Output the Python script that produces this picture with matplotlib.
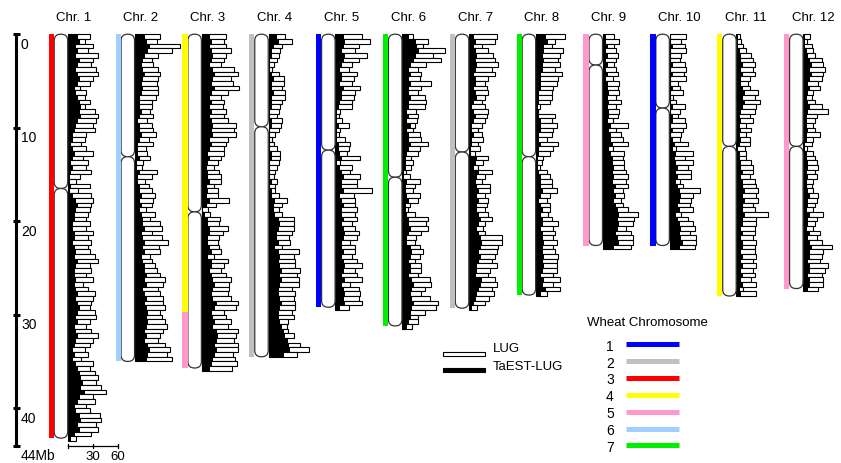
import matplotlib
matplotlib.use('Agg')
import matplotlib.pyplot as plt
from matplotlib.patches import FancyBboxPatch, Rectangle

plt.rcParams['font.family'] = ['Liberation Sans', 'DejaVu Sans']

# ---- data -------------------------------------------------------------
chrom_names = ['Chr. 1', 'Chr. 2', 'Chr. 3', 'Chr. 4', 'Chr. 5', 'Chr. 6',
               'Chr. 7', 'Chr. 8', 'Chr. 9', 'Chr. 10', 'Chr. 11', 'Chr. 12']
chrom_len = [43.2, 35.0, 35.7, 34.5, 29.2, 31.2, 29.3, 27.9, 22.6, 22.6, 28.0, 27.2]
centromere = [16.5, 13.1, 19.0, 9.9, 12.4, 15.3, 12.6, 13.1, 3.3, 7.9, 12.0, 12.0]

# syntenic wheat group blocks: (rice chrom index, start Mb, end Mb, wheat group)
wheat_blocks = [(0, 0, 43.2, 3), (1, 0, 35.0, 6), (2, 0, 29.7, 4), (2, 29.7, 35.7, 5),
                (3, 0, 34.5, 2), (4, 0, 29.2, 1), (5, 0, 31.2, 7), (6, 0, 29.3, 2),
                (7, 0, 27.9, 7), (8, 0, 22.6, 5), (9, 0, 22.6, 1), (10, 0, 28.0, 4),
                (11, 0, 27.2, 5)]
wheat_groups = ['1', '2', '3', '4', '5', '6', '7']
wheat_colors = ['#0000ff', '#c0c0c0', '#ff0000', '#ffff00', '#ff99cc', '#a0d0ff', '#00ee00']

bin_mb = 0.5

lug_chr1 = [26, 20, 30, 24, 36, 30, 28, 34, 36, 30, 26, 14, 22, 20, 26, 20, 32, 36, 34, 30,
            32, 22, 20, 16, 22, 30, 18, 24, 22, 28, 14, 10, 26, 12, 28, 30, 28, 26, 24, 22,
            26, 22, 30, 24, 28, 24, 26, 32, 36, 26, 28, 22, 30, 18, 24, 32, 30, 28, 26, 32,
            34, 26, 22, 28, 36, 30, 26, 20, 24, 16, 30, 26, 32, 36, 34, 40, 46, 30, 32, 22,
            26, 38, 40, 34, 36, 28, 10]
est_chr1 = [12, 14, 10, 12, 10, 14, 12, 10, 12, 14, 12, 8, 10, 12, 14, 16, 14, 16, 12, 10,
            8, 6, 6, 4, 6, 8, 6, 4, 6, 4, 2, 2, 4, 2, 6, 10, 12, 10, 8, 8,
            6, 6, 8, 8, 6, 8, 10, 8, 12, 10, 8, 8, 10, 8, 10, 12, 10, 12, 14, 12,
            10, 12, 8, 10, 12, 10, 8, 6, 8, 6, 10, 12, 14, 16, 18, 16, 20, 14, 12, 8,
            10, 14, 16, 12, 14, 8, 4]
lug_chr2 = [30, 27, 54, 45, 28, 20, 22, 28, 30, 28, 27, 28, 28, 25, 20, 20, 18, 22, 14, 20,
            22, 25, 17, 22, 13, 15, 18, 10, 8, 26, 20, 12, 17, 20, 24, 22, 20, 13, 24, 18,
            30, 32, 20, 32, 40, 29, 30, 18, 20, 24, 26, 30, 36, 34, 28, 30, 34, 34, 36, 30,
            32, 36, 38, 34, 30, 28, 36, 42, 38, 45]
est_chr2 = [12, 14, 18, 16, 12, 10, 8, 10, 12, 10, 8, 10, 8, 6, 6, 6, 8, 6, 4, 6,
            6, 8, 6, 4, 4, 4, 6, 2, 2, 6, 4, 4, 6, 6, 8, 6, 8, 6, 8, 10,
            10, 12, 8, 10, 12, 10, 12, 8, 10, 12, 12, 14, 12, 14, 10, 12, 14, 12, 14, 16,
            14, 16, 14, 12, 14, 12, 16, 18, 16, 14]
lug_chr3 = [29, 27, 29, 35, 29, 27, 23, 39, 43, 35, 37, 45, 31, 23, 27, 25, 29, 27, 31, 41,
            39, 41, 31, 29, 27, 27, 23, 19, 15, 21, 23, 23, 15, 19, 19, 33, 17, 8, 10, 22,
            21, 31, 25, 21, 19, 21, 23, 15, 31, 27, 23, 29, 35, 33, 33, 31, 35, 43, 41, 27,
            29, 35, 31, 43, 41, 39, 43, 43, 38, 40, 42, 36]
est_chr3 = [10, 12, 10, 12, 14, 12, 10, 14, 16, 14, 12, 16, 12, 10, 12, 10, 12, 10, 12, 14,
            12, 14, 10, 12, 10, 8, 10, 8, 6, 8, 8, 10, 6, 8, 6, 10, 6, 2, 4, 8,
            8, 10, 10, 8, 8, 10, 12, 8, 12, 12, 10, 12, 14, 16, 14, 12, 14, 18, 16, 12,
            14, 16, 14, 18, 20, 18, 16, 18, 16, 14, 12, 10]
lug_chr4 = [20, 28, 16, 14, 12, 10, 6, 4, 12, 19, 18, 16, 20, 20, 16, 14, 12, 10, 16, 15,
            12, 8, 4, 6, 10, 14, 14, 12, 10, 8, 7, 10, 8, 8, 12, 22, 16, 12, 16, 30,
            31, 30, 28, 24, 26, 16, 36, 30, 32, 32, 38, 34, 36, 36, 28, 32, 30, 32, 32, 28,
            30, 23, 22, 23, 31, 22, 38, 48, 34]
est_chr4 = [10, 12, 6, 4, 4, 2, 2, 2, 4, 6, 4, 4, 6, 4, 4, 4, 2, 2, 4, 4,
            2, 2, 2, 2, 2, 4, 4, 2, 2, 2, 2, 4, 2, 4, 4, 8, 6, 6, 8, 12,
            14, 12, 10, 10, 12, 8, 12, 14, 12, 14, 16, 14, 16, 14, 12, 12, 14, 16, 14, 12,
            12, 14, 16, 18, 20, 22, 24, 26, 18]
lug_chr5 = [32, 42, 28, 24, 38, 28, 20, 16, 26, 22, 20, 30, 24, 22, 20, 20, 6, 4, 8, 16,
            6, 4, 12, 18, 16, 14, 30, 6, 20, 18, 30, 26, 26, 44, 22, 24, 24, 26, 24, 26,
            20, 24, 28, 26, 18, 24, 24, 20, 26, 32, 24, 26, 32, 18, 28, 30, 28, 32, 16]
est_chr5 = [10, 12, 10, 8, 12, 10, 8, 6, 8, 8, 6, 10, 8, 8, 6, 4, 2, 2, 2, 4,
            2, 2, 2, 4, 4, 6, 8, 2, 6, 8, 10, 8, 8, 10, 6, 8, 10, 8, 8, 10,
            8, 10, 12, 10, 8, 8, 10, 8, 10, 12, 10, 8, 12, 8, 10, 12, 10, 12, 6]
lug_chr6 = [13, 31, 25, 51, 37, 47, 29, 19, 23, 21, 35, 23, 19, 27, 29, 27, 17, 19, 18, 15,
            13, 21, 22, 31, 21, 19, 11, 13, 11, 5, 9, 21, 15, 13, 21, 19, 9, 7, 15, 31,
            29, 31, 23, 17, 15, 21, 25, 21, 15, 23, 23, 19, 33, 35, 27, 23, 33, 43, 41, 27,
            19, 19, 12]
est_chr6 = [8, 16, 18, 20, 16, 14, 10, 8, 10, 8, 10, 8, 8, 10, 8, 8, 6, 8, 6, 10,
            6, 8, 8, 10, 8, 6, 4, 4, 4, 2, 2, 6, 4, 4, 6, 8, 4, 4, 6, 8,
            8, 10, 8, 6, 6, 10, 12, 10, 8, 10, 10, 8, 12, 14, 12, 10, 12, 14, 12, 10,
            10, 8, 6]
lug_chr7 = [33, 31, 15, 23, 29, 31, 35, 27, 31, 23, 19, 21, 23, 19, 15, 19, 23, 21, 19, 15,
            11, 15, 17, 11, 13, 7, 23, 17, 11, 27, 19, 15, 25, 25, 19, 23, 21, 19, 23, 27,
            19, 17, 19, 39, 39, 35, 33, 31, 27, 33, 25, 23, 31, 33, 27, 30, 24, 19, 9]
est_chr7 = [6, 8, 6, 8, 10, 8, 10, 8, 6, 8, 8, 6, 8, 10, 6, 4, 6, 8, 6, 4,
            4, 6, 4, 4, 2, 2, 10, 8, 6, 12, 10, 8, 10, 12, 10, 12, 10, 10, 12, 14,
            12, 10, 12, 14, 16, 14, 12, 14, 12, 10, 10, 8, 16, 14, 12, 10, 8, 6, 4]
lug_chr8 = [35, 23, 19, 33, 29, 27, 29, 23, 31, 27, 25, 21, 19, 19, 17, 5, 3, 23, 19, 25,
            21, 19, 13, 27, 21, 17, 9, 7, 5, 13, 17, 19, 19, 25, 17, 13, 17, 17, 15, 19,
            27, 21, 23, 21, 25, 21, 23, 27, 25, 25, 25, 21, 29, 21, 29, 13]
est_chr8 = [12, 14, 10, 10, 8, 10, 8, 8, 6, 6, 6, 6, 4, 4, 4, 2, 2, 4, 6, 6,
            6, 4, 4, 6, 4, 4, 2, 2, 2, 4, 6, 6, 6, 8, 6, 4, 6, 8, 6, 8,
            8, 6, 8, 8, 10, 8, 8, 10, 8, 10, 8, 6, 10, 8, 12, 6]
lug_chr9 = [14, 20, 14, 16, 18, 16, 14, 16, 18, 12, 20, 18, 20, 16, 22, 16, 20, 18, 12, 30,
            16, 22, 24, 30, 12, 26, 24, 26, 26, 28, 30, 28, 30, 24, 26, 22, 24, 30, 42, 38,
            36, 28, 34, 36, 36, 34]
est_chr9 = [4, 4, 6, 4, 6, 4, 6, 4, 6, 4, 6, 6, 8, 6, 8, 6, 8, 8, 6, 10,
            8, 10, 10, 12, 8, 10, 12, 12, 14, 12, 14, 12, 16, 14, 16, 14, 16, 18, 20, 18,
            20, 18, 16, 18, 20, 14]
lug_chr10 = [20, 14, 19, 20, 14, 12, 18, 20, 17, 20, 10, 12, 16, 4, 8, 18, 12, 10, 18, 20,
             16, 14, 12, 22, 8, 28, 18, 28, 22, 26, 26, 12, 16, 36, 28, 26, 24, 28, 14, 22,
             28, 30, 24, 32, 32, 30]
est_chr10 = [2, 2, 4, 2, 2, 2, 4, 2, 4, 2, 2, 4, 2, 2, 2, 4, 2, 4, 4, 2,
             4, 2, 4, 6, 4, 8, 6, 8, 10, 8, 10, 8, 10, 12, 14, 12, 10, 12, 8, 10,
             12, 14, 12, 14, 16, 12]
lug_chr11 = [4, 6, 8, 12, 18, 20, 22, 20, 22, 16, 14, 16, 26, 22, 28, 24, 22, 16, 20, 12,
             18, 12, 16, 16, 10, 12, 12, 18, 20, 20, 16, 22, 24, 26, 24, 26, 20, 22, 38, 24,
             24, 22, 22, 20, 24, 22, 22, 24, 20, 24, 20, 22, 18, 24, 8, 24]
est_chr11 = [2, 2, 2, 4, 6, 6, 8, 6, 8, 6, 6, 8, 10, 8, 10, 8, 6, 4, 6, 4,
             6, 4, 6, 4, 2, 4, 4, 6, 6, 8, 6, 8, 8, 10, 8, 10, 8, 8, 10, 8,
             8, 6, 8, 6, 8, 8, 6, 8, 6, 8, 6, 8, 6, 8, 4, 6]
lug_chr12 = [8, 4, 10, 12, 14, 22, 24, 26, 24, 22, 18, 20, 12, 10, 14, 22, 30, 16, 14, 12,
             14, 20, 12, 10, 4, 12, 14, 16, 18, 14, 16, 12, 10, 12, 18, 16, 14, 12, 24, 16,
             14, 12, 20, 16, 22, 34, 24, 22, 20, 30, 26, 22, 24, 24, 18]
est_chr12 = [2, 2, 2, 4, 6, 8, 10, 8, 10, 8, 6, 8, 6, 4, 6, 8, 6, 4, 4, 4,
             6, 4, 4, 2, 2, 4, 4, 6, 6, 4, 6, 4, 4, 6, 8, 6, 6, 4, 8, 6,
             6, 4, 8, 6, 8, 10, 8, 8, 6, 8, 8, 6, 8, 8, 6]

lug = [lug_chr1, lug_chr2, lug_chr3, lug_chr4, lug_chr5, lug_chr6,
       lug_chr7, lug_chr8, lug_chr9, lug_chr10, lug_chr11, lug_chr12]
est = [est_chr1, est_chr2, est_chr3, est_chr4, est_chr5, est_chr6,
       est_chr7, est_chr8, est_chr9, est_chr10, est_chr11, est_chr12]

# ---- layout (x in pixels, y in Mb) ------------------------------------
W, H = 841, 463
Y0 = 34.2          # pixel row of 0 Mb
PX_MB = 9.35       # pixels per Mb
UNIT = 25 / 30     # pixels per count unit
def mb(py):
    return (py - Y0) / PX_MB

fig = plt.figure(figsize=(W / 100, H / 100), dpi=100)
ax = fig.add_axes([0, 0, 1, 1])
ax.set_xlim(0, W)
ax.set_ylim(mb(H), mb(0))
ax.set_axis_off()

bases = [68 + 66.85 * i for i in range(12)]

for i, name in enumerate(chrom_names):
    b = bases[i]
    ax.text(b - 11.5, mb(18), name, fontsize=9.5, ha='left', va='center')

    # histogram: LUG (white) behind, TaEST-LUG (black) on top
    n = len(lug[i])
    centers = [bin_mb * (k + 0.5) for k in range(n)]
    ax.barh(centers, [v * UNIT for v in lug[i]], left=b, height=bin_mb,
            color='white', edgecolor='black', linewidth=0.8, zorder=2)
    ax.barh(centers, [v * UNIT for v in est[i]], left=b, height=bin_mb,
            color='black', edgecolor='none', zorder=3)

    # chromosome arms as rounded capsules
    cen = centromere[i]
    for y_start, y_end in [(0, cen), (cen, chrom_len[i])]:
        arm = FancyBboxPatch((b - 13.8, y_start), 13.5, y_end - y_start,
                             boxstyle='round,pad=0,rounding_size=6.5',
                             mutation_aspect=1 / PX_MB,
                             facecolor='white', edgecolor='#333333',
                             linewidth=0.9, zorder=4)
        ax.add_patch(arm)

for ci, y_start, y_end, grp in wheat_blocks:
    b = bases[ci]
    ax.add_patch(Rectangle((b - 19.3, y_start), 5.2, y_end - y_start,
                           facecolor=wheat_colors[grp - 1], edgecolor='none', zorder=4))

# Mb scale on the left
ax.plot([16, 16], [0, 44], color='black', linewidth=2.2, solid_capstyle='butt')
mb_ticks = [0, 10, 20, 30, 40, 44]
mb_labels = ['0', '10', '20', '30', '40', '44Mb']
for t, lab in zip(mb_ticks, mb_labels):
    ax.plot([13, 20], [t, t], color='black', linewidth=2.2, solid_capstyle='butt')
    ax.text(21, t + 1.15, lab, fontsize=10, ha='left', va='center')

# count scale under chr1
ax.plot([bases[0], bases[0] + 60 * UNIT], [44.05, 44.05], color='black', linewidth=0.9)
for v in [0, 30, 60]:
    ax.plot([bases[0] + v * UNIT] * 2, [43.85, 44.25], color='black', linewidth=0.9)
for v in [30, 60]:
    ax.text(bases[0] + v * UNIT, mb(457), str(v), fontsize=9.5, ha='center', va='center')

# legend: LUG / TaEST-LUG
ax.add_patch(Rectangle((443, mb(351.5)), 42, 4.5 / PX_MB, facecolor='white',
                       edgecolor='black', linewidth=0.8))
ax.add_patch(Rectangle((443, mb(367.5)), 42, 5 / PX_MB, facecolor='black',
                       edgecolor='black', linewidth=0.8))
ax.text(493, mb(349.5), 'LUG', fontsize=9.5, ha='left', va='center')
ax.text(493, mb(367), 'TaEST-LUG', fontsize=9.5, ha='left', va='center')

# legend: wheat chromosome groups
ax.text(587, mb(323), 'Wheat Chromosome', fontsize=9.5, ha='left', va='center')
for k, (g, c) in enumerate(zip(wheat_groups, wheat_colors)):
    py = 344.3 + 16.85 * k
    ax.plot([626, 679], [mb(py), mb(py)], color=c, linewidth=3.6, solid_capstyle='butt')
    ax.text(610, mb(py + 2.5), g, fontsize=10, ha='center', va='center')

fig.savefig('out.png', dpi=100)
